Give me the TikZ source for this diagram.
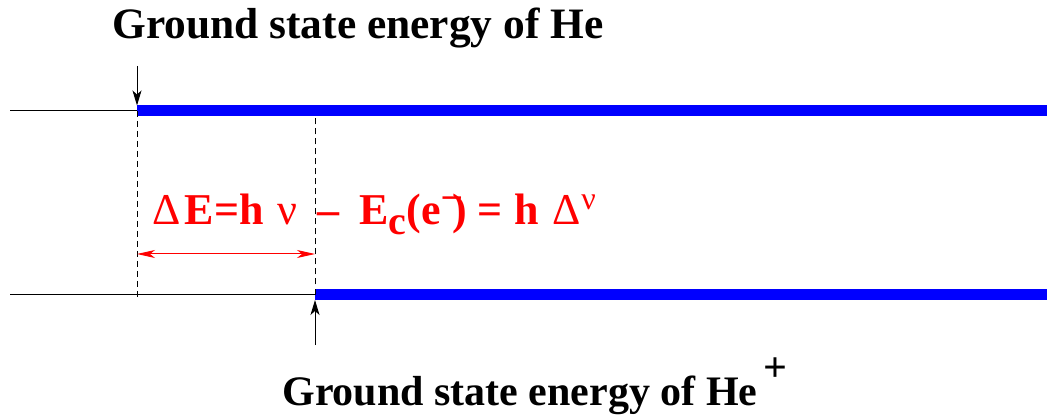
\documentclass[tikz,border=0pt]{standalone}
\usepackage{fontspec}
\setmainfont{Liberation Serif}
\usetikzlibrary{arrows.meta}

\begin{document}
\begin{tikzpicture}[x=0.5pt,y=-0.5pt,
  level/.style={line width=5.5pt,blue},
  baseline/.style={line width=0.5pt,black},
  guide/.style={line width=0.5pt,dash pattern=on 3pt off 2pt},
  marker/.style={line width=0.5pt,-{Stealth[length=7.5pt,width=4.5pt,inset=2pt]}},
  gap/.style={line width=0.5pt,red,{Stealth[length=9pt,width=4pt,inset=2.5pt]}-{Stealth[length=9pt,width=4pt,inset=2.5pt]}},
  statelabel/.style={font=\fontsize{21.7}{26}\selectfont\bfseries,inner sep=0pt,anchor=base west},
  formula/.style={font=\fontsize{22}{26}\selectfont\bfseries,text=red,inner sep=0pt,anchor=base west}]
\useasboundingbox (0,0) rectangle (1047,416);

% energy levels
\coordinate (hestart) at (10,111);
\coordinate (he) at (137,111);
\coordinate (heend) at (1047,111);
\coordinate (ionstart) at (10,294.5);
\coordinate (ion) at (315,294.5);
\coordinate (ionend) at (1047,294.5);
\draw[baseline] (hestart) -- (he);
\draw[level] (he) -- (heend);
\draw[baseline] (ionstart) -- (ion);
\draw[level] (ion) -- (ionend);

% dashed guides
\coordinate (heguide) at (137,297);
\coordinate (ionguide) at (315,117);
\draw[guide] (he) -- (heguide);
\draw[guide] (ion) -- (ionguide);

% labels and markers
\node[statelabel] (helabel) at (112,39) {Ground state energy of He};
\node[statelabel,font=\fontsize{21}{25}\selectfont\bfseries] (ionlabel) at (282,405) {Ground state energy of He\hspace{3pt}\raisebox{0.55em}{+}};
\coordinate (hetop) at (137,66);
\coordinate (hetip) at (137,105.5);
\coordinate (ionbot) at (315,345);
\coordinate (iontip) at (315,300);
\draw[marker] (hetop) -- (hetip);
\draw[marker] (ionbot) -- (iontip);

% energy difference
\coordinate (gapleft) at (137,254);
\coordinate (gapright) at (315,254);
\draw[gap] (gapleft) -- (gapright);
\node[formula] (dE) at (152,225) {{\mdseries Δ}\hspace{2pt}E=h\hspace{7pt}{\mdseries ν}\hspace{10pt}–\hspace{10pt}E\raisebox{-5pt}{\fontsize{20}{20}\selectfont c}(e\hspace{1pt}\raisebox{0.42em}{\fontsize{18}{18}\selectfont –}\hspace{-4pt})\hspace{5pt}=\hspace{6pt}h\hspace{7pt}{\mdseries Δ\raisebox{7.5pt}{\fontsize{16}{16}\selectfont ν}}};
\end{tikzpicture}
\end{document}
